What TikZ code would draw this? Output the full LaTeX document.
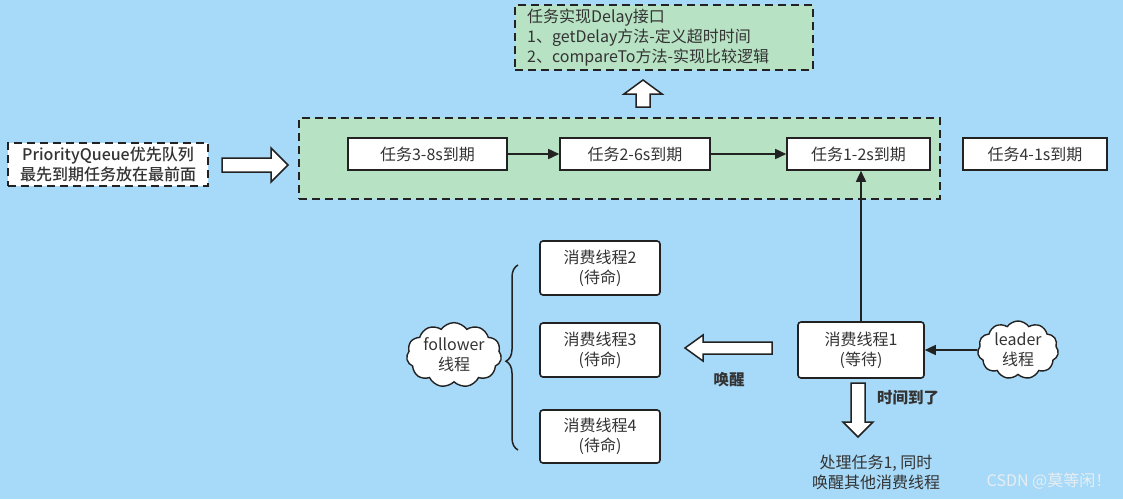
\documentclass[tikz,border=0pt]{standalone}
\usepackage{fontspec}
\setmainfont{Noto Sans CJK SC}
\newfontfamily\medf{Noto Sans CJK SC}[UprightFont=* Medium]
\usetikzlibrary{shapes.symbols,decorations.pathreplacing,arrows.meta}
\definecolor{bg}{RGB}{167,217,248}
\definecolor{grn}{RGB}{183,226,196}
\definecolor{ink}{RGB}{34,34,34}
\definecolor{txt}{RGB}{51,51,51}
\begin{document}
\begin{tikzpicture}[x=1pt,y=-1pt,
  every node/.style={font=\fontsize{16}{20}\selectfont, text=txt, inner sep=0pt},
  taskbox/.style={draw=ink, line width=1.6pt, fill=white, minimum height=32pt},
  thread/.style={draw=ink, line width=1.6pt, fill=white, rounded corners=3pt, minimum width=120pt, minimum height=54pt, align=center},
  dbox/.style={draw=ink, line width=2pt, dash pattern=on 8pt off 5pt},
  blk/.style={draw=ink, line width=1.5pt, fill=white, line join=miter},
  conn/.style={draw=ink, line width=1.6pt, -{Triangle[length=11pt,width=10pt]}},
  cloudy/.style={cloud, cloud puffs=11, cloud puff arc=110, draw=ink, line width=1.4pt, fill=white, align=center, aspect=1.6},
  lbl/.style={font=\fontsize{15.5}{20}\selectfont\bfseries}
]
\fill[bg] (0,0) rectangle (1123,499);
\useasboundingbox (0,0) rectangle (1123,499);

% top interface box
\node[dbox, fill=grn, minimum width=298pt, minimum height=65pt] (iface) at (664,37.5) {};
\node[anchor=west, align=left] (ifacetxt) at (527,37.5) {任务实现Delay接口\\1、getDelay方法-定义超时时间\\2、compareTo方法-实现比较逻辑};

% up block arrow
\draw[blk] (643,80) -- (662,94) -- (650,94) -- (650,107) -- (636,107) -- (636,94) -- (624,94) -- cycle;

% priority queue
\node[dbox, fill=white, minimum width=200pt, minimum height=43pt, align=center, font=\fontsize{16}{20}\medf] (pq) at (108,164.5) {PriorityQueue优先队列\\最先到期任务放在最前面};

% right block arrow
\draw[blk] (288,165) -- (271,148) -- (271,158) -- (222,158) -- (222,172) -- (271,172) -- (271,182) -- cycle;

% green queue box
\node[dbox, fill=grn, minimum width=641pt, minimum height=81pt] (queue) at (619.5,158.5) {};

\node[taskbox, minimum width=159pt] (t3) at (427.5,154) {任务3-8s到期};
\node[taskbox, minimum width=150pt] (t2) at (635,154) {任务2-6s到期};
\node[taskbox, minimum width=143pt] (t1) at (858.5,154) {任务1-2s到期};
\node[taskbox, minimum width=144pt] (t4) at (1035,154) {任务4-1s到期};

\draw[conn] (t3) -- (t2);
\draw[conn] (t2) -- (t1);

% consumer threads
\node[thread] (c2) at (600,268) {消费线程2\\(待命)};
\node[thread] (c3) at (600,350) {消费线程3\\(待命)};
\node[thread, minimum height=53pt] (c4) at (600,436.5) {消费线程4\\(待命)};
\node[thread, minimum width=126pt, minimum height=56pt] (c1) at (861,350) {消费线程1\\(等待)};

\draw[conn] (c1.north) -- (t1.south -| c1.north);

% brace
\coordinate (bb) at (518,450);
\coordinate (bt) at (518,265);
\draw[ink, line width=1.5pt, decorate, decoration={brace, amplitude=12pt, aspect=0.48}] (bb) -- (bt);

% clouds
\node[cloudy, minimum width=95pt, minimum height=58pt] (follower) at (454,355) {follower\\线程};
\node[cloudy, minimum width=80pt, minimum height=58pt] (leader) at (1018,350) {leader\\线程};
\draw[conn] (leader) -- (c1);

% wake arrow (left)
\draw[blk] (685,348) -- (703,335) -- (703,342) -- (772,342) -- (772,354) -- (703,354) -- (703,361) -- cycle;
\node[lbl] (wake) at (729,380) {唤醒};

% down arrow
\draw[blk] (858,437) -- (873,422) -- (865,422) -- (865,383) -- (851,383) -- (851,422) -- (843,422) -- cycle;
\node[lbl] (timeup) at (908,398) {时间到了};

\node[align=center] (result) at (876,472) {处理任务1, 同时\\唤醒其他消费线程};

\node[text={rgb,255:red,230;green,238;blue,242}, font=\fontsize{16}{18}\selectfont] (mark) at (1049,481) {CSDN @莫等闲！};
\end{tikzpicture}
\end{document}
